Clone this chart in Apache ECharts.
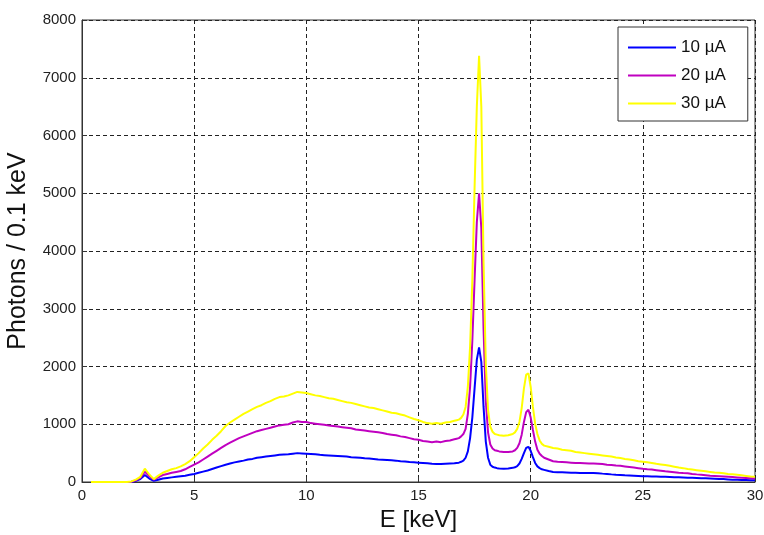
<!DOCTYPE html>
<html>
<head>
<meta charset="utf-8">
<script src="https://cdn.jsdelivr.net/npm/echarts@6/dist/echarts.min.js"></script>
<style>html,body{margin:0;padding:0;background:#fff}#c{width:764px;height:535px}</style>
</head>
<body>
<div id="c"></div>
<script>
// Energy axis (keV), split in segments
const energyLow = [0.4,0.6,0.8,1.0,1.2,1.4,1.6,1.8,2.0,2.2,
  2.4,2.6,2.8,3.0,3.2,3.4,3.6,3.8,4.0,4.2,
  4.4,4.6,4.8,5.0,5.2,5.4,5.6,5.8,6.0,6.2,
  6.4,6.6,6.8,7.0,7.2,7.4,7.6,7.8,8.0,8.2,
  8.4,8.6,8.8,9.0,9.2,9.4,9.6,9.8,10.0,10.2,
  10.4,10.6,10.8,11.0,11.2,11.4,11.6,11.8,12.0,12.2,
  12.4,12.6,12.8,13.0,13.2,13.4,13.6,13.8,14.0,14.2,
  14.4,14.6,14.8,15.0,15.2,15.4,15.6,15.8,16.0,16.2,
  16.4,16.6];
const energyKa = [16.7,16.8,16.9,17.0,17.1,17.2,17.3,17.4,17.5,17.6,
  17.7,17.8,17.9,18.0,18.1,18.2,18.3,18.4,18.5,18.6];
const energyMid = [18.8,19.0,19.2];
const energyKb = [19.3,19.4,19.5,19.6,19.7,19.8,19.9,20.0,20.1,20.2,
  20.3,20.4,20.5,20.6];
const energyHigh = [20.8,21.0,21.2,21.4,21.6,21.8,22.0,22.2,22.4,22.6,
  22.8,23.0,23.2,23.4,23.6,23.8,24.0,24.2,24.4,24.6,
  24.8,25.0,25.2,25.4,25.6,25.8,26.0,26.2,26.4,26.6,
  26.8,27.0,27.2,27.4,27.6,27.8,28.0,28.2,28.4,28.6,
  28.8,29.0,29.2,29.4,29.6,29.8,30.0];

// 10 µA
const blue10 = [0,0,0,0,0,0,0,0,0,0,
  20,50,120,60,20,40,60,70,80,90,
  100,110,125,140,160,180,200,225,250,275,
  300,320,340,355,370,390,400,420,430,440,
  450,460,470,475,480,490,500,495,490,485,
  480,470,465,460,455,450,445,440,430,425,
  420,410,405,400,390,385,380,375,370,360,
  355,345,340,335,330,325,315,310,310,315,
  320,325,
  330,335,350,370,420,530,760,1120,1620,2120,
  2330,2080,1300,700,420,300,265,250,240,235,
  230,235,245,
  255,275,320,400,500,590,610,540,430,330,
  270,240,220,210,
  190,175,170,168,165,162,160,158,157,156,
  155,152,145,140,132,125,120,115,112,108,
  104,100,98,96,94,92,90,87,84,81,
  78,75,72,69,66,63,60,57,54,50,
  45,40,38,36,34,32,30];

// 20 µA
const magenta20 = [0,0,0,0,0,0,0,0,0,5,
  30,70,180,100,40,80,120,140,160,175,
  190,220,260,300,340,390,440,490,540,590,
  640,680,720,760,790,820,850,880,900,920,
  940,960,980,990,1000,1030,1050,1040,1040,1020,
  1010,1000,990,980,970,960,950,940,930,910,
  900,890,880,870,860,850,830,820,810,790,
  780,760,740,730,710,700,690,700,690,710,
  720,740,
  750,760,790,830,920,1180,1650,2450,3500,4500,
  5000,4400,2650,1400,860,650,580,550,540,530,
  520,520,530,
  550,590,670,820,1040,1210,1250,1120,900,700,
  560,490,450,420,
  390,360,350,345,340,335,330,328,325,322,
  320,318,310,300,295,285,280,270,260,250,
  240,230,222,215,205,195,185,178,170,162,
  155,150,140,132,125,118,110,105,100,95,
  90,85,80,75,70,65,60];

// 30 µA
const yellow30 = [0,0,0,0,0,0,0,0,0,10,
  40,90,230,130,50,110,160,190,220,240,
  270,310,360,430,500,580,650,730,800,880,
  970,1030,1080,1130,1180,1220,1260,1300,1330,1370,
  1400,1440,1470,1480,1500,1530,1560,1550,1540,1520,
  1500,1490,1470,1450,1440,1420,1400,1380,1370,1350,
  1330,1310,1290,1280,1260,1240,1220,1200,1190,1170,
  1150,1120,1090,1070,1040,1020,1010,1020,1010,1030,
  1040,1060,
  1070,1080,1110,1170,1300,1650,2350,3500,5100,6500,
  7380,6500,3800,2050,1250,960,870,830,820,810,
  800,810,830,
  860,920,1040,1280,1620,1860,1880,1650,1300,1010,
  830,720,660,630,
  610,590,580,560,550,540,520,510,500,490,
  480,470,460,450,440,425,415,400,390,375,
  360,350,340,330,315,305,295,280,265,250,
  240,225,215,205,195,185,175,165,160,150,
  140,135,125,115,105,95,90];

const seriesNames = ['10 µA','20 µA','30 µA'];
const seriesColors = ['#0000ff','#c000c0','#ffff00'];
const xTicks = {min:0, max:30, step:5};
const yTicks = {min:0, max:8000, step:1000};

const energy = [].concat(energyLow, energyKa, energyMid, energyKb, energyHigh);
const values = [blue10, magenta20, yellow30];

const chart = echarts.init(document.getElementById('c'), null, {renderer:'canvas'});
const font = 'Liberation Sans, Arial, sans-serif';
const splitLine = {show:true, lineStyle:{color:'#222', type:[4,3], width:1}};
chart.setOption({
  animation:false,
  backgroundColor:'#fff',
  grid:{left:82, right:9, top:20, bottom:53, show:true, borderColor:'#333', borderWidth:1, containLabel:false, outerBoundsMode:'none'},
  legend:{
    orient:'vertical', left:618, top:27,
    padding:[12,22,9,10],
    backgroundColor:'#fff', borderColor:'#333', borderWidth:1,
    icon:'rect', itemWidth:48, itemHeight:2, itemGap:11,
    textStyle:{fontFamily:font, fontSize:17, color:'#111', lineHeight:17},
    data:seriesNames
  },
  xAxis:{
    type:'value', min:xTicks.min, max:xTicks.max, interval:xTicks.step,
    name:'E [keV]', nameLocation:'middle', nameGap:25,
    nameTextStyle:{fontFamily:font, fontSize:24, color:'#111'},
    axisLine:{show:true, lineStyle:{color:'#333'}},
    axisTick:{show:true, inside:true, length:5, lineStyle:{color:'#333'}},
    axisLabel:{fontFamily:font, fontSize:15, color:'#222', margin:6, formatter:v=>String(v)},
    splitLine:splitLine
  },
  yAxis:{
    type:'value', min:yTicks.min, max:yTicks.max, interval:yTicks.step,
    name:'Photons / 0.1 keV', nameLocation:'middle', nameGap:51,
    nameTextStyle:{fontFamily:font, fontSize:25, color:'#111'},
    axisLine:{show:true, lineStyle:{color:'#333'}},
    axisTick:{show:true, inside:true, length:5, lineStyle:{color:'#333'}},
    axisLabel:{fontFamily:font, fontSize:15, color:'#222', margin:6, formatter:v=>String(v)},
    splitLine:splitLine
  },
  series: seriesNames.map((n,k)=>({
    name:n, type:'line', symbol:'none', showSymbol:false,
    color:seriesColors[k],
    lineStyle:{width:2, color:seriesColors[k]},
    data: energy.map((e,i)=>[e, values[k][i]])
  }))
});
</script>
</body>
</html>
